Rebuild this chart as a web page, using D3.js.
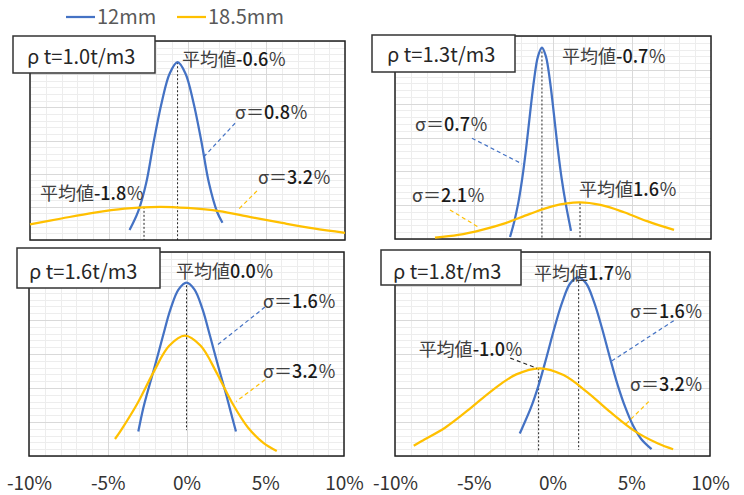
<!DOCTYPE html>
<html lang="ja">
  <head>
    <meta http-equiv="Content-Type" content="text/html; charset=utf-8"/>
    <style>
body { margin: 0; background: #fff; }
svg { display: block; }
.grid line { shape-rendering: crispEdges; }
.grid path { display: none; }
.ann { font-family: "Noto Sans CJK JP", "Noto Sans", sans-serif; font-size: 18px; fill: #404040; }
.ann .num { fill: #1a1a1a; font-weight: 500; }
.title { font-family: "Noto Sans CJK JP", "Noto Sans", sans-serif; font-size: 20px; fill: #262626; }
.legend text { font-family: "Noto Sans CJK JP", "Noto Sans", sans-serif; font-size: 20px; fill: #595959; }
.xaxis text { font-family: "Noto Sans CJK JP", "Noto Sans", sans-serif; font-size: 19px; fill: #333; }
    </style>
  </head>
  <body>
    <svg width="744" height="495"></svg>
    <script src="https://cdn.jsdelivr.net/npm/d3@7"></script>
    <script>

// ---- data (x in %, y in arbitrary height units 0..30) ----
var seriesNames = ["12mm", "18.5mm"];
var xTicks = [-10, -5, 0, 5, 10];
var xTickLabels = ["-10%", "-5%", "0%", "5%", "10%"];
var panelTitles = ["ρ t=1.0t/m3", "ρ t=1.3t/m3", "ρ t=1.6t/m3", "ρ t=1.8t/m3"];

var p1Blue = [[-3.68, 1.5], [-3.13, 4.3], [-2.63, 8.5], [-2.13, 15.0], [-1.63, 20.8], [-1.13, 25.1],
  [-0.63, 26.8], [-0.13, 25.1], [0.37, 20.8], [0.87, 15.0], [1.37, 8.5], [1.87, 4.3], [2.22, 2.6]];
var p1Yellow = [[-10, 2.35], [-8, 3.24], [-6, 4.09], [-4, 4.73], [-1.75, 5.0], [0, 4.83],
  [2, 4.37], [4, 3.46], [6, 2.57], [8, 1.74], [10, 1.08]];

var p2Blue = [[-2.72, 0.3], [-2.45, 2.6], [-2.2, 5.3], [-1.95, 8.9], [-1.7, 13.4], [-1.45, 18.6],
  [-1.2, 23.5], [-0.95, 27.0], [-0.7, 28.3], [-0.45, 27.0], [-0.2, 23.5], [0.05, 18.6],
  [0.3, 13.4], [0.55, 8.9], [0.8, 5.3], [1.14, 1.2]];
var p2Yellow = [[-7.47, 0.22], [-6, 0.6], [-4.5, 1.35], [-3, 2.35], [-1.5, 3.68], [0, 4.86],
  [1.65, 5.4], [3, 5.03], [4.5, 3.95], [6, 2.6], [7.66, 1.34]];

var p3Blue = [[-3.06, 3.6], [-2.75, 7.0], [-2.5, 9.2], [-2, 13.3], [-1.5, 17.6], [-1, 21.7],
  [-0.5, 24.5], [0, 25.5], [0.5, 24.5], [1, 21.7], [1.5, 17.6], [2, 13.3], [2.5, 9.2],
  [2.75, 7.0], [3.14, 3.6]];
var p3Yellow = [[-4.54, 2.5], [-4.1, 4.0], [-3.1, 7.8], [-2.1, 12.3], [-1.1, 16.2], [-0.1, 17.7],
  [0.9, 16.2], [1.9, 12.3], [2.9, 7.8], [3.9, 4.2], [4.9, 1.9], [5.73, 0.74]];

var p4Blue = [[-2.08, 3.3], [-1.87, 4.4], [-1.37, 7.1], [-0.87, 10.5], [-0.37, 14.6], [0.13, 18.9],
  [0.63, 22.7], [1.13, 25.4], [1.63, 26.3], [2.13, 25.4], [2.63, 22.7], [3.13, 18.9],
  [3.63, 14.6], [4.13, 10.5], [4.63, 7.1], [5.13, 4.4], [5.63, 2.5], [6.29, 1.0]];
var p4Yellow = [[-8.81, 1.5], [-8.3, 2.2], [-6.8, 4.2], [-5.3, 6.85], [-3.8, 9.7], [-2.3, 12.0],
  [-0.8, 12.9], [0.7, 11.9], [2.2, 9.4], [3.7, 6.4], [5.2, 3.7], [6.7, 1.84], [7.66, 1.0]];

var blueSeries = [p1Blue, p2Blue, p3Blue, p4Blue];
var yellowSeries = [p1Yellow, p2Yellow, p3Yellow, p4Yellow];

// mean markers: [x, yTop, yBottom]
var meanLines = [
  [[-0.63, 26.8, 0], [-2.76, 5.0, 0]],
  [[-0.7, 28.3, 0], [1.71, 5.3, 0]],
  [[0.0, 25.1, 3.8]],
  [[1.66, 26.3, 0.9], [-0.88, 12.9, 0.6]]
];
// labels: [prefix, number, suffix, x, y]
var labelTexts = [
  [["平均値", "-0.6", "％", -0.35, 26.2], ["σ＝", "0.8", "％", 3.02, 18.2],
   ["σ＝", "3.2", "％", 4.48, 8.4], ["平均値", "-1.8", "％", -9.37, 6.0]],
  [["平均値", "-0.7", "％", 0.57, 26.0], ["σ＝", "0.7", "％", -8.73, 16.0],
   ["σ＝", "2.1", "％", -8.92, 5.5], ["平均値", "1.6", "％", 1.65, 6.35]],
  [["平均値", "0.0", "％", -0.67, 26.2], ["σ＝", "1.6", "％", 4.86, 21.8],
   ["σ＝", "3.2", "％", 4.86, 11.5]],
  [["平均値", "1.7", "％", -1.17, 25.9], ["σ＝", "1.6", "％", 4.92, 20.3],
   ["平均値", "-1.0", "％", -8.5, 14.7], ["σ＝", "3.2", "％", 4.92, 9.6]]
];
// leader lines: [x1, y1, x2, y2, series]  series 0 blue, 1 yellow, 2 black
var leaders = [
  [[3.02, 17.6, 0.98, 12.4, 0], [4.41, 7.4, 3.27, 4.7, 1]],
  [[-5.13, 14.9, -1.96, 11.1, 0], [-6.52, 4.3, -4.75, 1.8, 1]],
  [[4.98, 21.9, 1.94, 16.3, 0], [4.98, 11.2, 3.14, 8.0, 1]],
  [[7.7, 19.9, 3.78, 14.0, 0], [-2.68, 14.4, -0.98, 12.9, 2], [6.11, 8.0, 4.62, 4.6, 1]]
];

// ---- layout ----
var colors = ["#4472C4", "#FFC000", "#262626"];
var panels = [
  { x0: 30, x1: 345, y0: 41, y1: 240, box: [13, 36, 142, 37], tx: 27, ty: 64 },
  { x0: 395, x1: 711, y0: 36, y1: 239, box: [372, 35, 143, 37], tx: 387, ty: 62 },
  { x0: 29, x1: 344, y0: 252, y1: 456, box: [17, 248, 143, 40], tx: 29, ty: 279 },
  { x0: 395, x1: 710, y0: 252, y1: 456, box: [381, 250, 140, 35], tx: 393, ty: 279 }
];

var svg = d3.select("svg");

panels.forEach(function(p, i) {
  var x = d3.scaleLinear().domain([-10, 10]).range([p.x0, p.x1]);
  var y = d3.scaleLinear().domain([0, 30]).range([p.y1, p.y0]);
  var g = svg.append("g");
  var w = p.x1 - p.x0, h = p.y1 - p.y0;

  // grid: minor then major
  g.append("g").attr("class", "grid").attr("transform", "translate(0," + p.y1 + ")")
    .call(d3.axisBottom(x).tickValues(d3.range(-10, 11, 1)).tickSize(-h).tickFormat(""))
    .selectAll("line").attr("stroke", "#ededed");
  g.append("g").attr("class", "grid").attr("transform", "translate(" + p.x0 + ",0)")
    .call(d3.axisLeft(y).tickValues(d3.range(0, 31, 1)).tickSize(-w).tickFormat(""))
    .selectAll("line").attr("stroke", "#ededed");
  g.append("g").attr("class", "grid").attr("transform", "translate(0," + p.y1 + ")")
    .call(d3.axisBottom(x).tickValues([-5, 0, 5]).tickSize(-h).tickFormat(""))
    .selectAll("line").attr("stroke", "#d9d9d9");
  g.append("g").attr("class", "grid").attr("transform", "translate(" + p.x0 + ",0)")
    .call(d3.axisLeft(y).tickValues(d3.range(0, 31, 5)).tickSize(-w).tickFormat(""))
    .selectAll("line").attr("stroke", "#d9d9d9");

  g.append("rect").attr("x", p.x0).attr("y", p.y0).attr("width", w).attr("height", h)
    .attr("fill", "none").attr("stroke", "#1f1f1f").attr("stroke-width", 1.5);

  // mean dashed lines
  g.selectAll(".mean").data(meanLines[i]).enter().append("line")
    .attr("x1", function(d) { return x(d[0]); }).attr("x2", function(d) { return x(d[0]); })
    .attr("y1", function(d) { return y(d[1]); }).attr("y2", function(d) { return y(d[2]); })
    .attr("stroke", "#222").attr("stroke-width", 1).attr("stroke-dasharray", "2,2");

  var line = d3.line().x(function(d) { return x(d[0]); }).y(function(d) { return y(d[1]); })
    .curve(d3.curveCatmullRom.alpha(0.5));
  [blueSeries[i], yellowSeries[i]].forEach(function(s, k) {
    g.append("path").datum(s).attr("d", line).attr("fill", "none")
      .attr("stroke", colors[k]).attr("stroke-width", 2.25);
  });

  g.selectAll(".leader").data(leaders[i]).enter().append("line")
    .attr("x1", function(d) { return x(d[0]); }).attr("y1", function(d) { return y(d[1]); })
    .attr("x2", function(d) { return x(d[2]); }).attr("y2", function(d) { return y(d[3]); })
    .attr("stroke", function(d) { return colors[d[4]]; }).attr("stroke-width", 1.2)
    .attr("stroke-dasharray", "4,3");

  var t = g.selectAll(".ann").data(labelTexts[i]).enter().append("text").attr("class", "ann")
    .attr("x", function(d) { return x(d[3]); }).attr("y", function(d) { return y(d[4]); });
  t.append("tspan").text(function(d) { return d[0]; });
  t.append("tspan").attr("class", "num").text(function(d) { return d[1]; });
  t.append("tspan").text(function(d) { return d[2]; });

  // title box
  g.append("rect").attr("x", p.box[0]).attr("y", p.box[1]).attr("width", p.box[2]).attr("height", p.box[3])
    .attr("fill", "#fff").attr("stroke", "#333").attr("stroke-width", 1.5);
  g.append("text").attr("class", "title").attr("x", p.tx).attr("y", p.ty).text(panelTitles[i]);
});

// x axis labels under bottom panels
[panels[2], panels[3]].forEach(function(p) {
  var x = d3.scaleLinear().domain([-10, 10]).range([p.x0, p.x1]);
  var ax = svg.append("g").attr("class", "xaxis").attr("transform", "translate(0,476)")
    .call(d3.axisBottom(x).tickValues(xTicks).tickSize(0).tickPadding(0)
      .tickFormat(function(d, j) { return xTickLabels[j]; }));
  ax.select(".domain").remove();
  ax.selectAll("text").attr("font-family", null).attr("font-size", null).attr("fill", null);
});

// legend
var legendX = [66, 177];
var lg = svg.append("g").attr("class", "legend");
seriesNames.forEach(function(n, k) {
  lg.append("line").attr("x1", legendX[k]).attr("x2", legendX[k] + 29).attr("y1", 17).attr("y2", 17)
    .attr("stroke", colors[k]).attr("stroke-width", 2.25);
  lg.append("text").attr("x", legendX[k] + 31).attr("y", 24).text(n);
});

    </script>
  </body>
</html>
